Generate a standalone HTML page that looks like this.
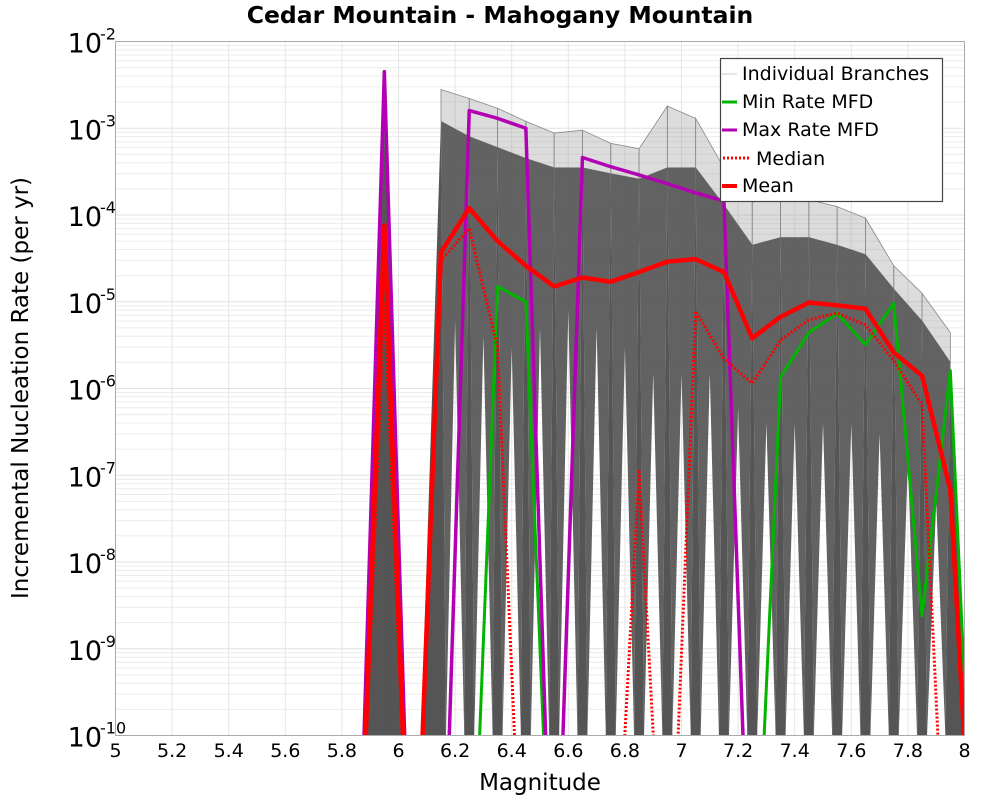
<!DOCTYPE html>
<html><head><meta charset="utf-8"><style>
html,body{margin:0;padding:0;background:#fff;overflow:hidden;}
svg{display:block;}
svg text{font-family:"DejaVu Sans","Liberation Sans",sans-serif;}
</style></head><body>
<svg id="chart" width="1000" height="800" viewBox="0 0 1000 800" xmlns="http://www.w3.org/2000/svg">
<defs><clipPath id="plotclip"><rect x="115.5" y="41.5" width="849" height="694"/></clipPath></defs>
<text x="500" y="23" text-anchor="middle" font-size="23.5" font-weight="bold">Cedar Mountain - Mahogany Mountain</text>
<rect x="115.5" y="41.5" width="849" height="694" fill="#fff"/>
<g id="grid"></g>
<g id="branches" clip-path="url(#plotclip)"></g>
<g id="series" clip-path="url(#plotclip)"></g>
<rect x="115.5" y="41.5" width="849" height="694" fill="none" stroke="#aaa" stroke-width="1"/>
<g id="yticks"></g>
<g id="xticks"></g>
<text transform="translate(28,388) rotate(-90)" text-anchor="middle" font-size="23">Incremental Nucleation Rate (per yr)</text>
<text x="540" y="790" text-anchor="middle" font-size="23">Magnitude</text>
<g>
<rect x="720.5" y="58.5" width="222" height="143" fill="#fff" stroke="#444" stroke-width="1.2"/>
<g><line x1="722" y1="74" x2="737" y2="74" stroke="#ccc" stroke-width="1"/><text x="742" y="80" font-size="19">Individual Branches</text></g>
<g><line x1="722" y1="102" x2="737" y2="102" stroke="#00b400" stroke-width="3"/><text x="742" y="108" font-size="19">Min Rate MFD</text></g>
<g><line x1="722" y1="130" x2="737" y2="130" stroke="#b400b4" stroke-width="3"/><text x="742" y="136" font-size="19">Max Rate MFD</text></g>
<g><line x1="723" y1="158" x2="751" y2="158" stroke="#f00" stroke-width="3" stroke-dasharray="2,2"/><text x="756" y="165" font-size="19">Median</text></g>
<g><line x1="722" y1="186" x2="737" y2="186" stroke="#f00" stroke-width="4"/><text x="742" y="192" font-size="19">Mean</text></g>
</g>
</svg>
<script>
const mags = [5.95,6.05,6.15,6.25,6.35,6.45,6.55,6.65,6.75,6.85,6.95,7.05,7.15,7.25,7.35,7.45,7.55,7.65,7.75,7.85,7.95];
const meanRate = [7.6e-5,0,3.7e-5,1.2e-4,5e-5,2.6e-5,1.5e-5,1.9e-5,1.7e-5,2.2e-5,2.9e-5,3.1e-5,2.2e-5,3.8e-6,6.7e-6,9.8e-6,9.1e-6,8.3e-6,2.6e-6,1.4e-6,6.8e-8];
const medianRate = [1e-5,0,3e-5,7e-5,3e-6,0,0,0,0,1.1e-7,0,7.8e-6,2.2e-6,1.15e-6,3.6e-6,6.2e-6,7.4e-6,5.4e-6,2.1e-6,6.5e-7,0];
const maxRate = [4.5e-3,0,0,1.6e-3,1.3e-3,1e-3,0,4.6e-4,3.6e-4,2.9e-4,2.3e-4,1.8e-4,1.45e-4,0,0,0,0,0,0,0,0];
const minRate = [0,0,0,0,1.5e-5,1e-5,0,0,0,0,0,0,0,0,1.35e-6,4.4e-6,7.3e-6,3.2e-6,9.6e-6,2.4e-9,1.6e-6];
const branchUpper = [4.5e-3,0,2.8e-3,2.2e-3,1.7e-3,1.2e-3,8.8e-4,9.5e-4,6.7e-4,5.8e-4,1.8e-3,1.3e-3,3.5e-4,1.4e-4,1.7e-4,1.5e-4,1.25e-4,9.2e-5,2.6e-5,1.25e-5,4.4e-6];
const branchDenseTop = [1.5e-3,0,1.2e-3,8e-4,6e-4,4.5e-4,3.5e-4,3.5e-4,3e-4,2.6e-4,3.5e-4,3.5e-4,1.3e-4,4.5e-5,5.5e-5,5.5e-5,4.5e-5,3.5e-5,1.4e-5,6e-6,2e-6];
const branchGapBottom = [0,0,6e-6,4e-6,3e-6,5e-6,8e-6,5e-6,3e-6,1.5e-6,1.5e-6,1.5e-6,6e-7,4e-7,4e-7,4e-7,4e-7,3e-7,1.5e-7,5e-8];
const xTicks = ["5","5.2","5.4","5.6","5.8","6","6.2","6.4","6.6","6.8","7","7.2","7.4","7.6","7.8","8"];
const yExps = [-2,-3,-4,-5,-6,-7,-8,-9,-10];

const NS="http://www.w3.org/2000/svg";
const L=115.5,T=41.5,R=964.5,B=735.5,DEC=(B-T)/8,FLOORLOG=-13;
function x(m){return L+(R-L)*(m-5)/3;}
function lg(v){return v>0?Math.log10(v):FLOORLOG;}
function y(v){return T+(-2-lg(v))*DEC;}
function el(tag,attrs,parent){const e=document.createElementNS(NS,tag);for(const k in attrs)e.setAttribute(k,attrs[k]);parent.appendChild(e);return e;}

const grid=document.getElementById('grid');
for(let d=-10;d<-2;d++){for(let k=2;k<=9;k++){const yy=T+(-2-(d+Math.log10(k)))*DEC;
const g=el('line',{x1:L,x2:R,y1:yy,y2:yy,stroke:'#ececec','stroke-width':1},grid);

}}
yExps.forEach(e=>{const yy=y(Math.pow(10,e));const g=el('line',{x1:L,x2:R,y1:yy,y2:yy,stroke:'#e2e2e2','stroke-width':1},grid);

});
xTicks.forEach(t=>{const xx=x(parseFloat(t));const g=el('line',{x1:xx,x2:xx,y1:T,y2:B,stroke:'#e6e6e6','stroke-width':1},grid);

});

const yt=document.getElementById('yticks');
yExps.forEach(e=>{const yy=y(Math.pow(10,e));
const t=el('text',{x:102,y:yy+11,'text-anchor':'end','font-size':27},yt);


t.textContent='10';
const s=el('text',{x:100,y:yy-2,'font-size':16},yt);


s.textContent=String(e);});
const xt=document.getElementById('xticks');
xTicks.forEach(t=>{const tx=el('text',{x:x(parseFloat(t)),y:757,'text-anchor':'middle','font-size':19},xt);


tx.textContent=t;});

const br=document.getElementById('branches');
const step=x(6.05)-x(5.95);
function crossFloor(x0,v,dir){const a=lg(v);const f=(a+10)/(a-FLOORLOG);return x0+dir*step*Math.max(0,Math.min(1,f));}
const W=5;
for(let i=0;i<mags.length;i++){
 const xi=x(mags[i]);
 if(branchUpper[i]<=0)continue;
 const nxt=i+1<mags.length?branchUpper[i+1]:0;
 if(nxt>0){
  const p=el('polygon',{points:`${xi},${y(branchUpper[i])} ${x(mags[i+1])},${y(nxt)} ${x(mags[i+1])},${y(branchDenseTop[i+1])} ${xi},${y(branchDenseTop[i])}`,fill:'#8a8a8a','fill-opacity':0.3,stroke:'#888','stroke-width':0.8},br);
  
  
 }
 const sp=el('polygon',{points:`${xi-2},${B} ${xi},${y(branchUpper[i])} ${xi+2},${B}`,fill:'#999','fill-opacity':0.6},br);
 
 
}
for(let i=0;i<mags.length;i++){
 const xi=x(mags[i]);const v=branchDenseTop[i];
 if(v<=0)continue;
 const nxt=i+1<mags.length?branchDenseTop[i+1]:0;
 if(nxt>0){
  const x1=x(mags[i+1]);
  const p=el('polygon',{points:`${xi},${y(v)} ${x1},${y(nxt)} ${x1-W},${B} ${(xi+x1)/2},${y(branchGapBottom[i])} ${xi+W},${B}`,fill:'#555','fill-opacity':0.92},br);
  
  
 }
 const w=el('polygon',{points:`${xi-W},${B} ${xi},${y(v)} ${xi+W},${B}`,fill:'#555'},br);
 
 
 const prev=i>0?branchDenseTop[i-1]:0;
 if(prev<=0){const e1=el('polygon',{points:`${xi},${y(v)} ${crossFloor(xi,v,-1)},${B} ${xi},${B}`,fill:'#555'},br);
 
 }
 if(nxt<=0){const e2=el('polygon',{points:`${xi},${y(v)} ${crossFloor(xi,v,1)},${B} ${xi},${B}`,fill:'#555'},br);
 
 }
}

const sg=document.getElementById('series');
function pts(arr){const m=[mags[0]-0.1].concat(mags,[mags[mags.length-1]+0.1]);const a=[0].concat(arr,[0]);
return m.map((mm,i)=>`${x(mm)},${y(a[i])}`).join(' ');}
function line(arr,color,w,name,dash){const p=el('polyline',{points:pts(arr),fill:'none',stroke:color,'stroke-width':w,'stroke-linejoin':'round'},sg);
if(dash)p.setAttribute('stroke-dasharray',dash);

}
line(minRate,'#00b400',3,'min-rate-line');
line(maxRate,'#b400b4',3.5,'max-rate-line');
line(medianRate,'#f00',3,'median-line','2,2');
line(meanRate,'#f00',4.5,'mean-line');
</script>
</body></html>
